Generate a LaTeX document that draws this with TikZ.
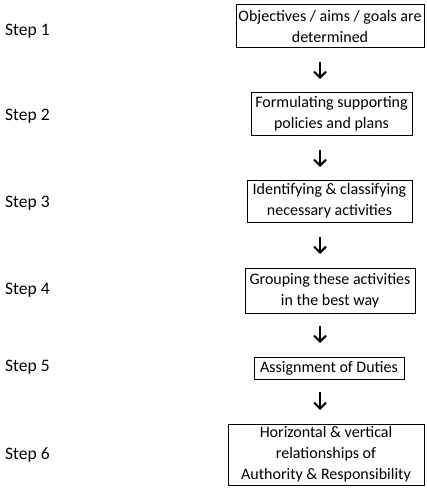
\documentclass[tikz,border=0pt]{standalone}
\usepackage{fontspec}
\setmainfont{Carlito}
\usetikzlibrary{arrows.meta}
\begin{document}
\begin{tikzpicture}[x=1pt,y=-1pt,
  stagebox/.style={draw, line width=1pt, align=center, inner sep=1pt,
    font=\fontsize{16}{21}\selectfont},
  steplabel/.style={anchor=west, inner sep=0pt, font=\fontsize{17.5}{20}\selectfont},
  flow/.style={line width=2pt, -{Straight Barb[length=6pt,width=12pt,line width=2pt]}}]
  \useasboundingbox (0,0) rectangle (426,492);

  % step labels
  \node[steplabel] (s1) at (5,31)  {Step 1};
  \node[steplabel] (s2) at (5,116) {Step 2};
  \node[steplabel] (s3) at (5,203) {Step 3};
  \node[steplabel] (s4) at (5,290) {Step 4};
  \node[steplabel] (s5) at (5,367) {Step 5};
  \node[steplabel] (s6) at (5,455) {Step 6};

  % process boxes
  \node[stagebox, minimum width=188, minimum height=43] (b1) at (330,26.5)
    {Objectives / aims / goals are\\determined};
  \node[stagebox, minimum width=161, minimum height=42] (b2) at (331.5,114)
    {Formulating supporting\\policies and plans};
  \node[stagebox, minimum width=165, minimum height=42] (b3) at (329.5,201)
    {Identifying \& classifying\\necessary activities};
  \node[stagebox, minimum width=170, minimum height=45] (b4) at (330,290.5)
    {Grouping these activities\\in the best way};
  \node[stagebox, minimum width=150, minimum height=22] (b5) at (329,368)
    {Assignment of Duties};
  \node[stagebox, minimum width=196, minimum height=61] (b6) at (326,454.5)
    {Horizontal \& vertical\\relationships of\\Authority \& Responsibility};

  % connectors
  \coordinate (a1s) at (320,62);  \coordinate (a1e) at (320,79);
  \coordinate (a2s) at (320,150); \coordinate (a2e) at (320,167);
  \coordinate (a3s) at (320,237); \coordinate (a3e) at (320,254);
  \coordinate (a4s) at (320,326); \coordinate (a4e) at (320,343);
  \coordinate (a5s) at (320,392); \coordinate (a5e) at (320,410);
  \draw[flow] (a1s) -- (a1e);
  \draw[flow] (a2s) -- (a2e);
  \draw[flow] (a3s) -- (a3e);
  \draw[flow] (a4s) -- (a4e);
  \draw[flow] (a5s) -- (a5e);
\end{tikzpicture}
\end{document}
